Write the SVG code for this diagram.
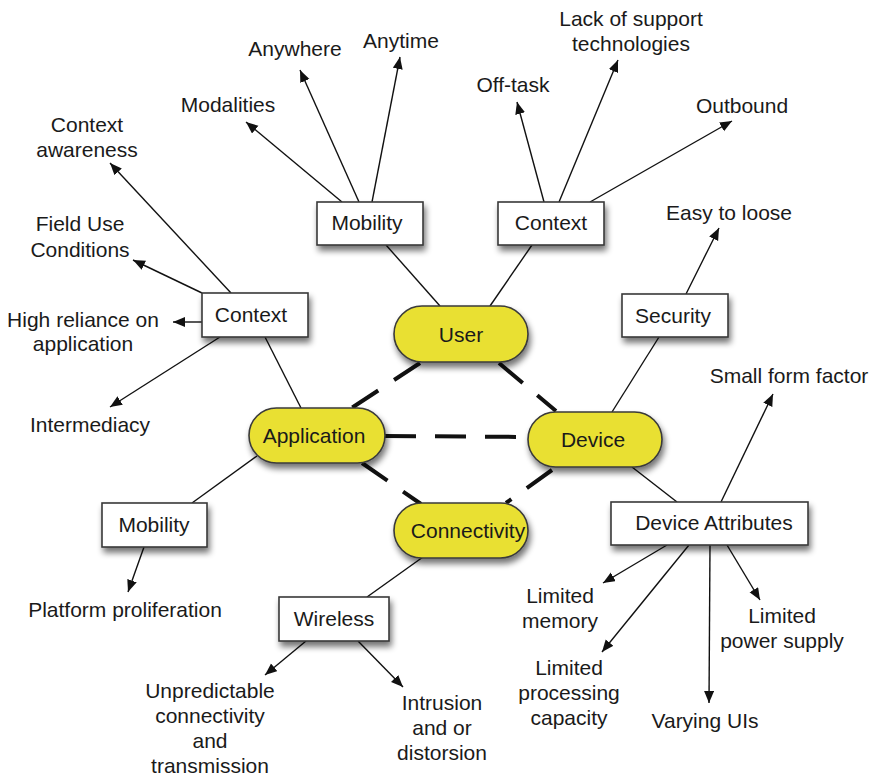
<svg xmlns="http://www.w3.org/2000/svg" width="875" height="777" viewBox="0 0 875 777">
  <defs>
    <filter id="shadow" x="-20%" y="-30%" width="140%" height="190%">
      <feGaussianBlur in="SourceAlpha" stdDeviation="3"/>
      <feOffset dx="2" dy="5" result="blur"/>
      <feComponentTransfer><feFuncA type="linear" slope="0.55"/></feComponentTransfer>
      <feMerge><feMergeNode/><feMergeNode in="SourceGraphic"/></feMerge>
    </filter>
    <marker id="arrow" markerWidth="13" markerHeight="11" refX="12" refY="5" orient="auto" markerUnits="userSpaceOnUse">
      <path d="M0,0 L12,5 L0,10 z" fill="#111"/>
    </marker>
  </defs>
  <style>
    text { font-family: "Liberation Sans", Arial, Helvetica, sans-serif; font-size: 21px; fill: #1a1a1a; text-anchor: middle; }
    .link { stroke: #111; stroke-width: 1.4; fill: none; }
    .arrow { marker-end: url(#arrow); }
    .dash { stroke: #111; stroke-width: 4; stroke-dasharray: 31 19; fill: none; }
    .box rect { fill: #fff; stroke: #3a3a3a; stroke-width: 1.6; filter: url(#shadow); }
    .pill rect { fill: #e9e033; stroke: #3a3a3a; stroke-width: 1.6; filter: url(#shadow); }
  </style>
  <rect width="875" height="777" fill="#fff"/>

  <!-- connectors -->
  <g id="connectors">
    <!-- dashed relations between the four core concepts -->
    <line class="dash" x1="420" y1="363" x2="350" y2="409"/>
    <line class="dash" x1="499" y1="363" x2="556" y2="411"/>
    <line class="dash" x1="385" y1="436" x2="528" y2="437"/>
    <line class="dash" x1="362" y1="463" x2="421" y2="504"/>
    <line class="dash" x1="552" y1="470" x2="506" y2="503"/>

    <!-- plain links from core concepts to category boxes -->
    <line class="link" x1="386" y1="245" x2="440" y2="306"/>
    <line class="link" x1="532" y1="245" x2="490" y2="306"/>
    <line class="link" x1="265" y1="337" x2="301" y2="408"/>
    <line class="link" x1="659" y1="337" x2="612" y2="412"/>
    <line class="link" x1="632" y1="467" x2="677" y2="502"/>
    <line class="link" x1="192" y1="503" x2="257" y2="456"/>
    <line class="link" x1="423" y1="557" x2="367" y2="597"/>

    <!-- arrows to attributes -->
    <line class="link arrow" x1="342" y1="202" x2="246" y2="122"/>
    <line class="link arrow" x1="359" y1="202" x2="300" y2="70"/>
    <line class="link arrow" x1="372" y1="202" x2="400" y2="57"/>
    <line class="link arrow" x1="544" y1="202" x2="517" y2="102"/>
    <line class="link arrow" x1="559" y1="202" x2="618" y2="60"/>
    <line class="link arrow" x1="590" y1="202" x2="732" y2="121"/>
    <line class="link arrow" x1="231" y1="293" x2="110" y2="163"/>
    <line class="link arrow" x1="202" y1="293" x2="133" y2="260"/>
    <line class="link arrow" x1="202" y1="322" x2="173" y2="322"/>
    <line class="link arrow" x1="220" y1="337" x2="110" y2="407"/>
    <line class="link arrow" x1="686" y1="294" x2="719" y2="228"/>
    <line class="link arrow" x1="721" y1="502" x2="773" y2="394"/>
    <line class="link arrow" x1="667" y1="545" x2="603" y2="583"/>
    <line class="link arrow" x1="689" y1="545" x2="602" y2="652"/>
    <line class="link arrow" x1="710" y1="545" x2="709" y2="703"/>
    <line class="link arrow" x1="727" y1="545" x2="760" y2="600"/>
    <line class="link arrow" x1="144" y1="547" x2="128" y2="592"/>
    <line class="link arrow" x1="306" y1="641" x2="265" y2="675"/>
    <line class="link arrow" x1="358" y1="641" x2="403" y2="687"/>
  </g>

  <!-- core concepts -->
  <g id="user" class="pill"><rect x="394" y="306" width="134" height="56" rx="28"/><text x="461" y="342">User</text></g>
  <g id="device" class="pill"><rect x="528" y="412" width="134" height="55" rx="27.5"/><text x="593" y="447">Device</text></g>
  <g id="application" class="pill"><rect x="249" y="408" width="136" height="55" rx="27.5"/><text x="314" y="443">Application</text></g>
  <g id="connectivity" class="pill"><rect x="394" y="503" width="134" height="55" rx="27.5"/><text x="468" y="538">Connectivity</text></g>

  <!-- category boxes -->
  <g id="user-mobility" class="box"><rect x="317" y="202" width="106" height="43"/><text x="367" y="230">Mobility</text></g>
  <g id="user-context" class="box"><rect x="498" y="202" width="106" height="43"/><text x="551" y="230">Context</text></g>
  <g id="app-context" class="box"><rect x="202" y="293" width="106" height="44"/><text x="251" y="322">Context</text></g>
  <g id="security" class="box"><rect x="622" y="294" width="106" height="43"/><text x="673" y="323">Security</text></g>
  <g id="device-attributes" class="box"><rect x="611" y="502" width="197" height="43"/><text x="714" y="530">Device Attributes</text></g>
  <g id="app-mobility" class="box"><rect x="102" y="503" width="105" height="44"/><text x="154" y="532">Mobility</text></g>
  <g id="wireless" class="box"><rect x="279" y="597" width="110" height="44"/><text x="334" y="626">Wireless</text></g>

  <!-- attribute labels -->
  <g id="modalities"><text x="228" y="112">Modalities</text></g>
  <g id="anywhere"><text x="295" y="56">Anywhere</text></g>
  <g id="anytime"><text x="401" y="48">Anytime</text></g>
  <g id="off-task"><text x="513" y="92">Off-task</text></g>
  <g id="lack-support"><text x="631" y="26">Lack of support</text><text x="631" y="51">technologies</text></g>
  <g id="outbound"><text x="742" y="113">Outbound</text></g>
  <g id="context-awareness"><text x="87" y="132">Context</text><text x="87" y="157">awareness</text></g>
  <g id="field-use"><text x="80" y="231">Field Use</text><text x="80" y="257">Conditions</text></g>
  <g id="high-reliance"><text x="83" y="327">High reliance on</text><text x="83" y="351">application</text></g>
  <g id="intermediacy"><text x="90" y="432">Intermediacy</text></g>
  <g id="easy-to-loose"><text x="729" y="220">Easy to loose</text></g>
  <g id="small-form"><text x="789" y="383">Small form factor</text></g>
  <g id="limited-memory"><text x="560" y="603">Limited</text><text x="560" y="628">memory</text></g>
  <g id="limited-power"><text x="782" y="623">Limited</text><text x="782" y="648">power supply</text></g>
  <g id="limited-processing"><text x="569" y="675">Limited</text><text x="569" y="700">processing</text><text x="569" y="725">capacity</text></g>
  <g id="varying-uis"><text x="705" y="728">Varying UIs</text></g>
  <g id="platform"><text x="125" y="617">Platform proliferation</text></g>
  <g id="unpredictable"><text x="210" y="698">Unpredictable</text><text x="210" y="723">connectivity</text><text x="210" y="748">and</text><text x="210" y="773">transmission</text></g>
  <g id="intrusion"><text x="442" y="710">Intrusion</text><text x="442" y="735">and or</text><text x="442" y="760">distorsion</text></g>
</svg>
